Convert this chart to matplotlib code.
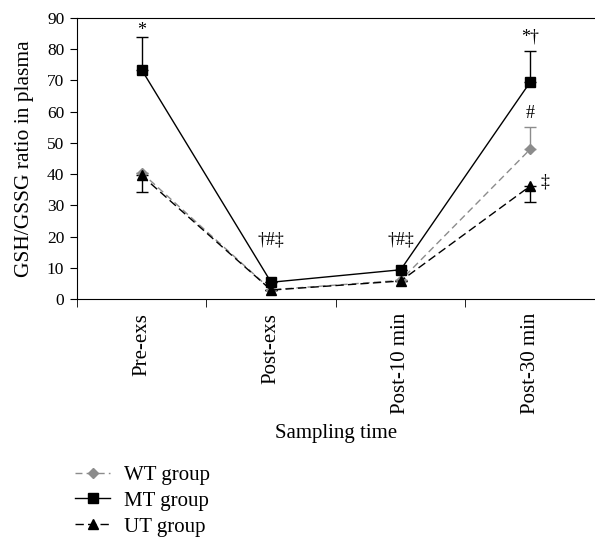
import numpy as np
import matplotlib.pyplot as plt
from matplotlib.lines import Line2D

plt.rcParams['font.family'] = ['Liberation Serif', 'DejaVu Serif']
plt.rcParams['font.size'] = 15

times = ["Pre-exs", "Post-exs", "Post-10 min", "Post-30 min"]
wt = [40.5, 3.0, 6.0, 48.0]
mt = [73.5, 5.4, 9.4, 69.5]
ut = [39.6, 2.9, 5.8, 36.2]
wt_err_up = [0, 0, 0, 7.2]
mt_err_up = [10.3, 0, 0, 10.0]
ut_err_down = [5.4, 0, 0, 5.0]

marks = [(0, 86.0, "*"), (1, 19.0, "†#‡"), (2, 19.0, "†#‡"),
         (3, 83.8, "*†"), (3, 59.5, "#"), (3.11, 37.5, "‡")]

fig = plt.figure(figsize=(5.95, 5.38), dpi=100)
ax = fig.add_axes([0.129, 0.444, 0.871, 0.5225])
x = np.arange(len(times))

wt_style = dict(color='#8c8c8c', ls=(0, (5, 3)), lw=1, marker='D', ms=5.5)
mt_style = dict(color='black', ls='-', lw=1, marker='s', ms=7.5)
ut_style = dict(color='black', ls=(0, (6, 3)), lw=1, marker='^', ms=7.5)

ax.errorbar(x, wt, yerr=[np.zeros(4), wt_err_up], capsize=4, elinewidth=1, **wt_style)
ax.errorbar(x, ut, yerr=[ut_err_down, np.zeros(4)], capsize=4, elinewidth=1, **ut_style)
ax.errorbar(x, mt, yerr=[np.zeros(4), mt_err_up], capsize=4, elinewidth=1, **mt_style)

for xi, yi, s in marks:
    ax.text(xi, yi, s, ha='center', va='center', fontsize=13)

ax.set_xlim(-0.5, 3.5)
ax.set_ylim(0, 90)
ax.set_yticks(range(0, 91, 10))
ax.set_xticks(x)
ax.set_xticklabels(times, rotation=90)
ax.tick_params(axis='x', which='major', length=0, pad=10)
ax.set_xticks(np.arange(-0.5, 3.5, 1), minor=True)
ax.tick_params(axis='x', which='minor', length=6, direction='out')
ax.tick_params(axis='y', length=5, direction='out', labelsize=12.5, pad=4)
ax.spines['right'].set_visible(False)
ax.set_xlabel("Sampling time", labelpad=7)
ax.set_ylabel("GSH/GSSG ratio in plasma", fontsize=15.5, labelpad=9)

handles = [Line2D([], [], **wt_style), Line2D([], [], **mt_style), Line2D([], [], **ut_style)]
labels = ["WT group", "MT group", "UT group"]
fig.legend(handles, labels, loc='upper left', bbox_to_anchor=(0.126, 0.135),
           frameon=False, handlelength=1.7, handletextpad=0.65, labelspacing=0.3,
           borderaxespad=0, borderpad=0)

fig.savefig("out.png", dpi=100)
